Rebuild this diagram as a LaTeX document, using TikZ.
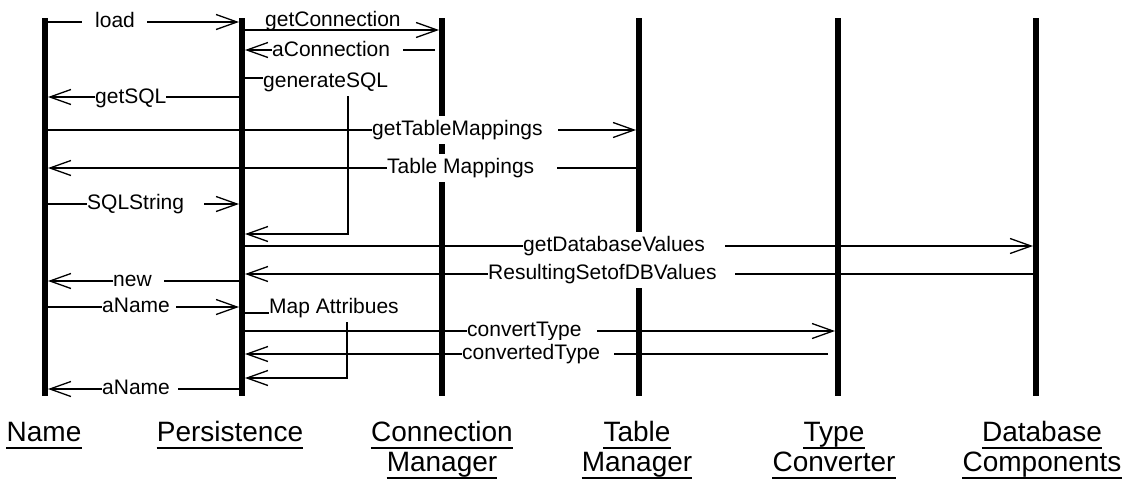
\documentclass[tikz,border=0pt]{standalone}
\usepackage{fontspec}
\setmainfont{Liberation Sans}
\usetikzlibrary{arrows.meta}
\begin{document}
\begin{tikzpicture}[x=1pt,y=-1pt,
  life/.style={line width=6pt},
  msg/.style={line width=1.3pt},
  arr/.style={msg,shorten >=3pt,-{Straight Barb[length=21pt,width=15pt,line width=1.3pt]}},
  lbl/.style={fill=white,inner xsep=0pt,inner ysep=4pt,text height=15pt,text depth=4.5pt,font=\fontsize{21}{25}\selectfont,anchor=base west},
  obj/.style={font=\fontsize{28}{32}\selectfont,anchor=base,inner xsep=0pt,inner ysep=3pt},
  ul/.style={line width=2pt}]
\useasboundingbox (0,0) rectangle (1140,482);
\coordinate (N) at (45,0);
\coordinate (P) at (242,0);
\coordinate (C) at (442,0);
\coordinate (T) at (639,0);
\coordinate (V) at (838,0);
\coordinate (D) at (1036,0);
% lifelines
\foreach \c in {N,P,C,T,V,D}{\draw[life] (\c |- 0,18) -- (\c |- 0,396);}
% messages
\draw[arr] (N |- 0,22) -- (P |- 0,22);
\draw[arr] (P |- 0,30) -- (C |- 0,30);
\coordinate (a3) at (435,50);
\draw[arr] (a3) -- (P |- 0,50);
\coordinate (g1) at (348,78);
\coordinate (g2) at (348,234);
\draw[arr] (P |- 0,78) -- (g1) -- (g2) -- (P |- 0,234);
\draw[arr] (P |- 0,97) -- (N |- 0,97);
\draw[arr] (N |- 0,130) -- (T |- 0,130);
\draw[arr] (T |- 0,168) -- (N |- 0,168);
\draw[arr] (N |- 0,204) -- (P |- 0,204);
\draw[arr] (P |- 0,246) -- (D |- 0,246);
\draw[arr] (D |- 0,274) -- (P |- 0,274);
\draw[arr] (P |- 0,281) -- (N |- 0,281);
\draw[arr] (N |- 0,307) -- (P |- 0,307);
\coordinate (m1) at (347,313);
\coordinate (m2) at (347,378);
\draw[arr] (P |- 0,313) -- (m1) -- (m2) -- (P |- 0,378);
\draw[arr] (P |- 0,331) -- (V |- 0,331);
\coordinate (c16) at (828,354);
\draw[arr] (c16) -- (P |- 0,354);
\draw[arr] (P |- 0,389) -- (N |- 0,389);
% labels
\node[lbl] (l1) at (82,27) {\kern13pt load\kern12pt};
\node[lbl,fill=none] (l2) at (265,26) {getConnection};
\node[lbl] (l3) at (272,56) {aConnection\kern13pt};
\node[lbl] (l4) at (263,87) {generateSQL};
\node[lbl] (l5) at (95,103) {getSQL};
\node[lbl] (l6) at (372,135) {getTableMappings\kern15pt};
\node[lbl] (l7) at (387,173) {Table Mappings\kern23pt};
\node[lbl] (l8) at (87,209) {SQLString\kern20pt};
\node[lbl] (l10) at (523,251) {getDatabaseValues\kern20pt};
\node[lbl] (l11) at (488,279) {ResultingSetofDBValues\kern18pt};
\node[lbl] (l12) at (113,286) {new\kern12pt};
\node[lbl] (l13) at (102,312) {aName\kern6pt};
\node[lbl] (l14) at (269,313) {Map Attribues};
\node[lbl] (l15) at (467,336) {convertType\kern15pt};
\node[lbl] (l16) at (462,359) {convertedType\kern14pt};
\node[lbl] (l18) at (102,394) {aName\kern8pt};
% objects
\node[obj] (oN) at (44,441) {Name};
\node[obj] (oP) at (230,441) {Persistence};
\node[obj] (oC1) at (442,441) {Connection};
\node[obj] (oC2) at (442,471) {Manager};
\node[obj] (oT1) at (637,441) {Table};
\node[obj] (oT2) at (637,471) {Manager};
\node[obj] (oV1) at (834,441) {Type};
\node[obj] (oV2) at (834,471) {Converter};
\node[obj] (oD1) at (1042,441) {Database};
\node[obj] (oD2) at (1042,471) {Components};
\foreach \n in {oN,oP,oC1,oC2,oT1,oT2,oV1,oV2,oD1,oD2}{\draw[ul] ([yshift=-6.5pt]\n.base west) -- ([yshift=-6.5pt]\n.base east);}
\end{tikzpicture}
\end{document}
